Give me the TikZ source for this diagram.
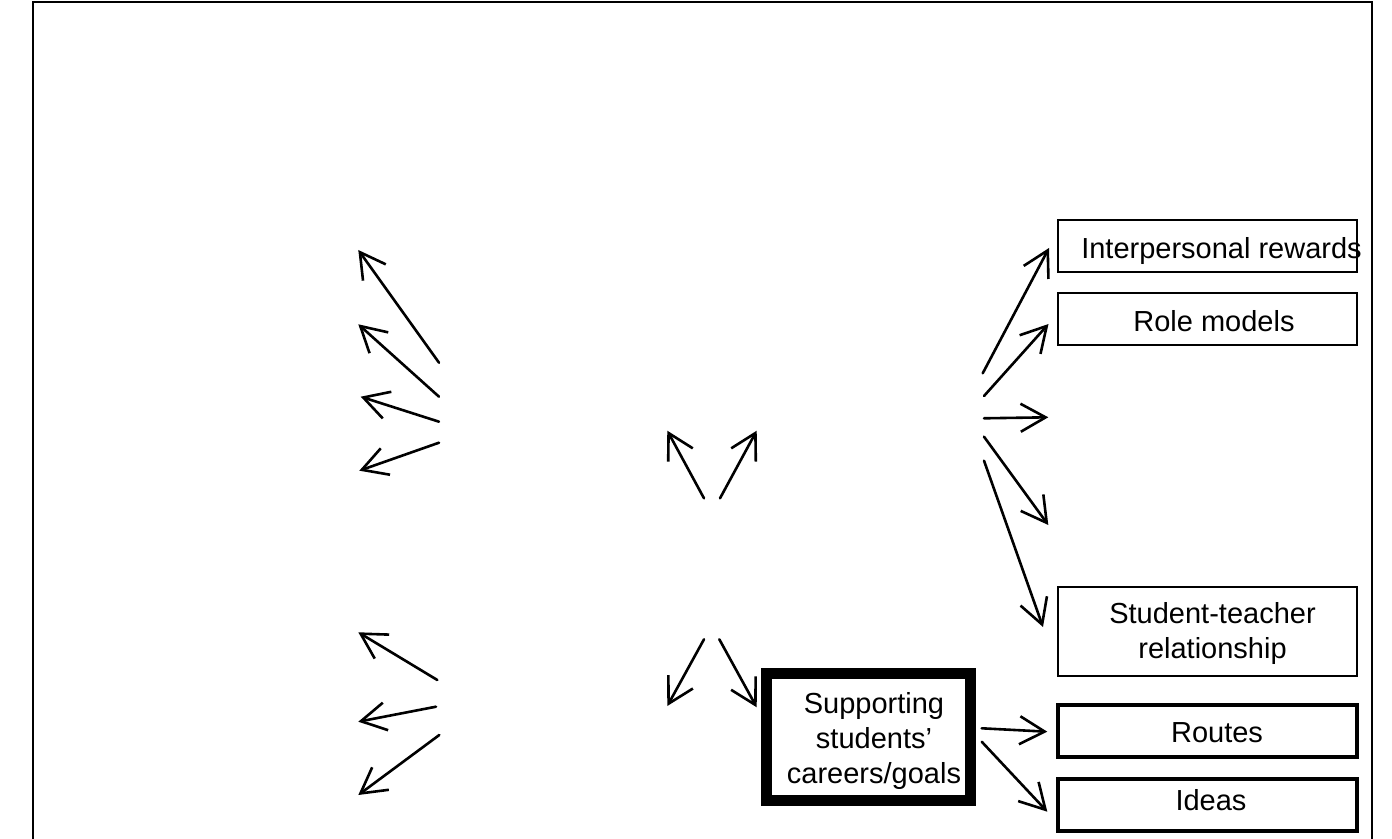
\documentclass[tikz,border=0pt]{standalone}
\usepackage{fontspec}
\setmainfont{Liberation Sans}
\usetikzlibrary{arrows.meta}
\begin{document}
\begin{tikzpicture}[x=0.5pt,y=-0.5pt,
  arr/.style={line width=1.3pt,line cap=round,-{Straight Barb[length=12.5pt,width=14pt,line join=miter]}},
  box/.style={draw,line width=1pt,minimum width=149.5pt,minimum height=26pt,inner sep=0pt,outer sep=0pt},
  thickbox/.style={box,line width=2pt},
  heavybox/.style={draw,line width=5.5pt,minimum width=102pt,minimum height=63.5pt,inner sep=0pt,outer sep=0pt},
  lbl/.style={inner sep=0pt,font=\fontsize{14.5pt}{17.5pt}\selectfont,align=center},
  frame/.style={line width=1pt}
]
\useasboundingbox (0,0) rectangle (1392,839);
% outer frame
\coordinate (fbl) at (33,839);
\coordinate (ftl) at (33,2);
\coordinate (ftr) at (1372,2);
\coordinate (fbr) at (1372,839);
\draw[frame] (fbl) -- (ftl) -- (ftr) -- (fbr);

% boxes
\node[box] (ir) at (1207.5,246) {};
\node[box] (rm) at (1207.5,319) {};
\node[box,minimum height=44.5pt] (st) at (1207.5,631.5) {};
\node[thickbox] (ro) at (1207.5,731) {};
\node[thickbox] (id) at (1207.5,805) {};
\node[heavybox] (sp) at (868.5,737) {};

% labels
\node[lbl,anchor=base] (irt) at (1221.5,258.3) {Interpersonal rewards};
\node[lbl,anchor=base] (rmt) at (1214,331.7) {Role models};
\node[lbl] (stt) at (1212.5,634) {Student-teacher\\relationship};
\node[lbl,anchor=base] (rot) at (1217,742.7) {Routes};
\node[lbl,anchor=base] (idt) at (1211,810.7) {Ideas};
\node[lbl] (spt) at (874,741.4) {Supporting\\students’\\careers/goals};

% free arrow ends
\coordinate (a1s) at (439,362.7);  \coordinate (a1e) at (358.3,250);
\coordinate (a2s) at (439,396.7);  \coordinate (a2e) at (358.3,324.3);
\coordinate (a3s) at (439,421.7);  \coordinate (a3e) at (360.7,396.7);
\coordinate (a4s) at (439,442.7);  \coordinate (a4e) at (359.3,470.7);
\coordinate (a5s) at (437.3,680);  \coordinate (a5e) at (358.3,632.3);
\coordinate (a6s) at (436,706.7);  \coordinate (a6e) at (358.3,721.7);
\coordinate (a7s) at (439.3,735);  \coordinate (a7e) at (358.3,795);
\coordinate (a8s) at (704,498.3);  \coordinate (a8e) at (667.3,430.7);
\coordinate (a9s) at (720,498.3);  \coordinate (a9e) at (756.7,430.7);
\coordinate (a10s) at (704,639.3); \coordinate (a10e) at (667.3,706);
\coordinate (a11s) at (719.3,639.3);
\coordinate (a12s) at (982.7,373.3);
\coordinate (a13s) at (984,396);
\coordinate (a14s) at (984,418.3); \coordinate (a14e) at (1048.3,417.3);
\coordinate (a15s) at (984,436.7); \coordinate (a15e) at (1048.3,525);
\coordinate (a16s) at (984,460.7);

% left fan
\draw[arr] (a1s) -- (a1e);
\draw[arr] (a2s) -- (a2e);
\draw[arr] (a3s) -- (a3e);
\draw[arr] (a4s) -- (a4e);
\draw[arr] (a5s) -- (a5e);
\draw[arr] (a6s) -- (a6e);
\draw[arr] (a7s) -- (a7e);
% middle
\draw[arr] (a8s) -- (a8e);
\draw[arr] (a9s) -- (a9e);
\draw[arr] (a10s) -- (a10e);
\draw[arr] (a11s) -- ([xshift=-4.9pt,yshift=-16.9pt]sp.north west);
% right fan
\draw[arr] (a12s) -- ([xshift=-4.5pt,yshift=-1pt]ir.west);
\draw[arr] (a13s) -- ([xshift=-4.75pt,yshift=-2.5pt]rm.west);
\draw[arr] (a14s) -- (a14e);
\draw[arr] (a15s) -- (a15e);
\draw[arr] (a16s) -- ([xshift=-7.5pt,yshift=2.25pt]st.west);
% from supporting box
\draw[arr] ([xshift=5.6pt,yshift=4.35pt]sp.east) -- ([xshift=-5.35pt,yshift=-0.35pt]ro.west);
\draw[arr] ([xshift=5.6pt,yshift=-2.35pt]sp.east) -- ([xshift=-5.35pt,yshift=-3.35pt]id.west);
\end{tikzpicture}
\end{document}
